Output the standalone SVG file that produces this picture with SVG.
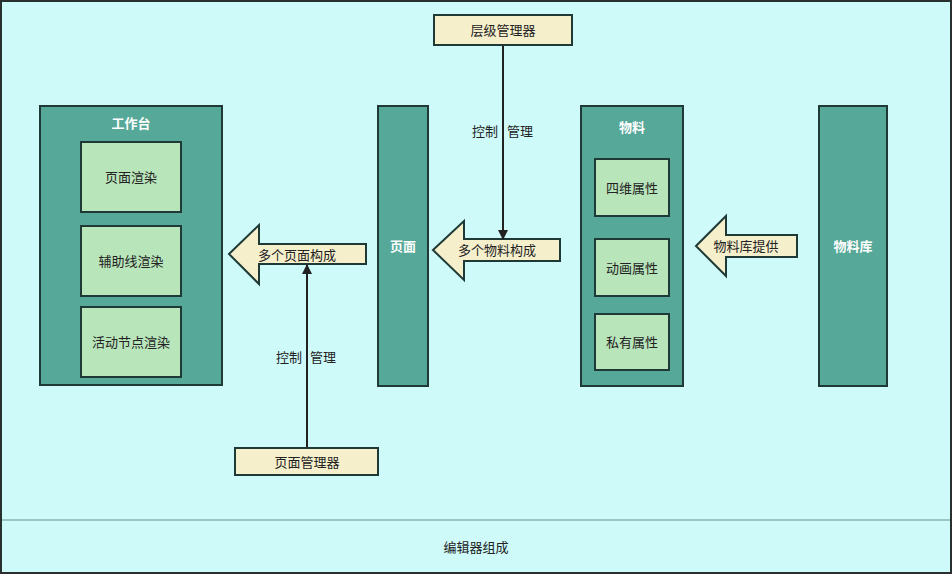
<svg xmlns="http://www.w3.org/2000/svg" width="952" height="574" viewBox="0 0 952 574">
<defs>
<style>
.t{font-family:"Noto Sans CJK SC","Liberation Sans",sans-serif;font-size:13px;fill:#222;text-anchor:middle;dominant-baseline:central}
.w{fill:#fff;font-weight:bold}
.col{fill:#56a898;stroke:#1f3a36;stroke-width:2}
.in{fill:#b9e5bb;stroke:#1f3a36;stroke-width:2}
.cr{fill:#f5efcc;stroke:#1f3a36;stroke-width:2}
.ln{stroke:#222;stroke-width:2;fill:none}
</style>
<marker id="ah" viewBox="0 0 10 10" refX="9" refY="5" markerWidth="10" markerHeight="10" markerUnits="userSpaceOnUse" orient="auto">
<path d="M0,0 L10,5 L0,10 Z" fill="#222"/>
</marker>
</defs>
<rect x="1" y="1" width="950" height="572" fill="#cefaf9" stroke="#2a2f30" stroke-width="2"/>
<line x1="2" y1="520" x2="950" y2="520" stroke="#9ec4c3" stroke-width="2"/>
<text class="t" x="476" y="546">编辑器组成</text>

<g id="workbench">
<rect class="col" x="40" y="106" width="182" height="279"/>
<text class="t w" x="131" y="122">工作台</text>
</g>
<g id="page-render"><rect class="in" x="81" y="142" width="100" height="70"/><text class="t" x="131" y="176">页面渲染</text></g>
<g id="guide-render"><rect class="in" x="81" y="226" width="100" height="70"/><text class="t" x="131" y="260">辅助线渲染</text></g>
<g id="node-render"><rect class="in" x="81" y="307" width="100" height="70"/><text class="t" x="131" y="341">活动节点渲染</text></g>

<g id="page"><rect class="col" x="378" y="106" width="50" height="280"/><text class="t w" x="403" y="245">页面</text></g>

<g id="material">
<rect class="col" x="581" y="106" width="102" height="280"/>
<text class="t w" x="632" y="126">物料</text>
</g>
<g id="attr-4d"><rect class="in" x="595" y="159" width="74" height="57"/><text class="t" x="632" y="187">四维属性</text></g>
<g id="attr-anim"><rect class="in" x="595" y="239" width="74" height="57"/><text class="t" x="632" y="267">动画属性</text></g>
<g id="attr-private"><rect class="in" x="595" y="314" width="74" height="56"/><text class="t" x="632" y="341">私有属性</text></g>

<g id="library"><rect class="col" x="819" y="106" width="68" height="280"/><text class="t w" x="853" y="245">物料库</text></g>

<g id="layer-manager"><rect class="cr" x="434" y="15" width="138" height="30"/><text class="t" x="503" y="29">层级管理器</text></g>
<g id="page-manager"><rect class="cr" x="235" y="448" width="143" height="27"/><text class="t" x="307" y="461">页面管理器</text></g>

<g id="arrow-pages">
<path class="cr" d="M229,254 L259,225 L259,244 L366,244 L366,264 L259,264 L259,284 Z"/>
<text class="t" x="297" y="254">多个页面构成</text>
</g>
<g id="arrow-materials">
<path class="cr" d="M433,250 L464,221 L464,239 L560,239 L560,261 L464,261 L464,280 Z"/>
<text class="t" x="497" y="249">多个物料构成</text>
</g>
<g id="arrow-library">
<path class="cr" d="M696,246 L726,216 L726,235 L797,235 L797,257 L726,257 L726,276 Z"/>
<text class="t" x="746" y="245">物料库提供</text>
</g>

<g id="connectors">
<line class="ln" x1="503" y1="46" x2="503" y2="239" marker-end="url(#ah)"/>
<text class="t" x="485" y="130">控制</text>
<text class="t" x="520" y="130">管理</text>
<line class="ln" x1="307" y1="447" x2="307" y2="265" marker-end="url(#ah)"/>
<text class="t" x="289" y="356">控制</text>
<text class="t" x="323" y="356">管理</text>
</g>
</svg>
